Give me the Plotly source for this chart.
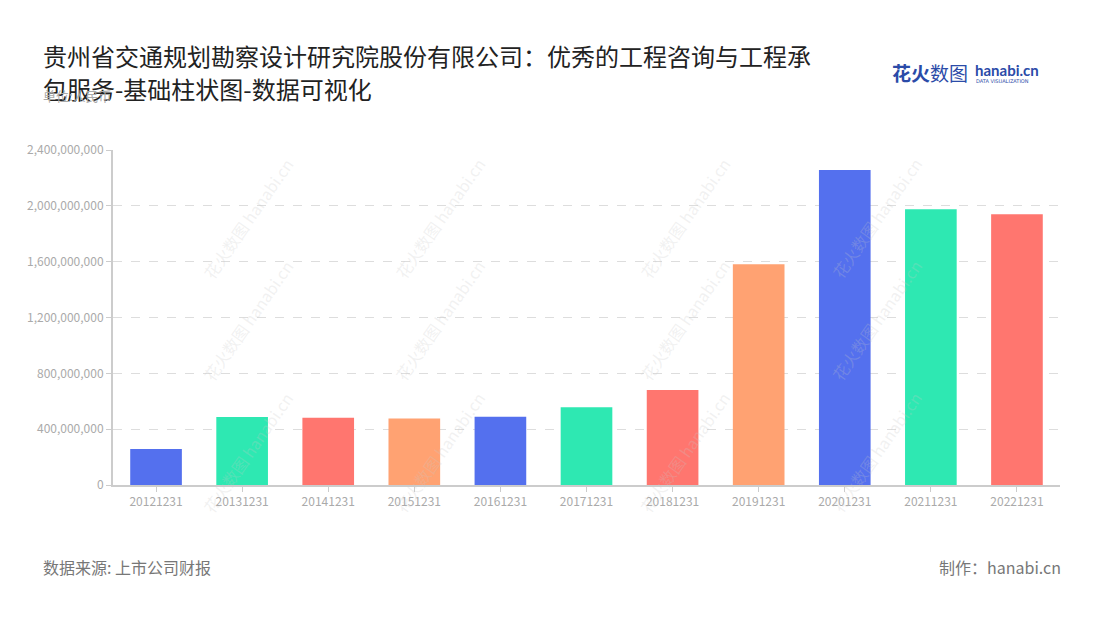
import plotly.graph_objects as go

categories = ["20121231", "20131231", "20141231", "20151231", "20161231", "20171231",
              "20181231", "20191231", "20201231", "20211231", "20221231"]
values = [258e6, 487e6, 482e6, 477e6, 489e6, 557e6, 681e6, 1581e6, 2257e6, 1975e6, 1939e6]
palette = ["#5470EE", "#2EE8B2", "#FF766F", "#FFA272"]
colors = [palette[i % 4] for i in range(len(categories))]

title_lines = ["贵州省交通规划勘察设计研究院股份有限公司：优秀的工程咨询与工程承",
               "包服务-基础柱状图-数据可视化"]
unit_text = "单位:人民币"
source_text = "数据来源: 上市公司财报"
maker_text = "制作：hanabi.cn"

FONT = "Noto Sans CJK SC"

fig = go.Figure(go.Bar(
    x=categories, y=values, marker=dict(color=colors, line=dict(width=0)),
    width=0.6, hoverinfo="x+y",
))

OFF = 8  # page body margin offset
W, H = 1100, 620
ml, mr, mt, mb = 113 - OFF, 40 + OFF, 150 - OFF, 135 + OFF

def px_x(x):
    x = x - OFF
    return (x - ml) / (W - ml - mr)

def px_y(y):
    y = y - OFF
    return 1 - (y - mt) / (H - mt - mb)

ann = []
ann.append(dict(text=title_lines[0], x=px_x(41), y=px_y(55), xref="paper", yref="paper",
                xanchor="left", yanchor="middle", align="left", showarrow=False,
                font=dict(family=FONT, size=24, color="#222222")))
ann.append(dict(text=title_lines[1], x=px_x(41), y=px_y(88), xref="paper", yref="paper",
                xanchor="left", yanchor="middle", align="left", showarrow=False,
                font=dict(family=FONT, size=24, color="#222222")))
ann.append(dict(text=unit_text, x=px_x(41), y=px_y(96), xref="paper", yref="paper",
                xanchor="left", yanchor="middle", showarrow=False,
                font=dict(family=FONT, size=13, color="#AAAAAA")))
ann.append(dict(text=source_text, x=px_x(41), y=px_y(567), xref="paper", yref="paper",
                xanchor="left", yanchor="middle", showarrow=False,
                font=dict(family=FONT, size=16, color="#777777")))
ann.append(dict(text=maker_text, x=px_x(1063), y=px_y(567), xref="paper", yref="paper",
                xanchor="right", yanchor="middle", showarrow=False,
                font=dict(family=FONT, size=16, color="#777777")))
# logo
ann.append(dict(text="<b>花火</b>数图", x=px_x(890), y=px_y(73), xref="paper", yref="paper",
                xanchor="left", yanchor="middle", showarrow=False,
                font=dict(family=FONT, size=19, color="#2B4BA8")))
ann.append(dict(text="<b>hanabi.cn</b>", x=px_x(973), y=px_y(70), xref="paper", yref="paper",
                xanchor="left", yanchor="middle", showarrow=False,
                font=dict(family="Lato", size=15, color="#2B4BA8")))
ann.append(dict(text="DATA VISUALIZATION", x=px_x(974), y=px_y(81), xref="paper", yref="paper",
                xanchor="left", yanchor="middle", showarrow=False,
                font=dict(family="DejaVu Sans", size=5, color="#2B4BA8")))

# faint watermarks
for wx in [155, 400, 645, 890]:
    for wy in [150, 320, 520]:
        ann.append(dict(text="花火数图 hanabi.cn", x=px_x(wx + 40), y=px_y(wy), xref="paper", yref="paper",
                        showarrow=False, textangle=-55,
                        font=dict(family=FONT, size=16, color="rgba(200,200,200,0.25)")))

fig.update_layout(
    width=W, height=H,
    margin=dict(l=ml, r=mr, t=mt, b=mb),
    paper_bgcolor="white", plot_bgcolor="white",
    showlegend=False,
    bargap=0.4,
    annotations=ann,
    font=dict(family=FONT),
    xaxis=dict(
        type="category", showline=True, linecolor="#CCCCCC", linewidth=2,
        ticks="outside", tickcolor="#CCCCCC", ticklen=5, tickwidth=1,
        tickfont=dict(family=FONT, size=12, color="#AAAAAA"),
        showgrid=False,
    ),
    yaxis=dict(
        range=[0, 2.4e9], dtick=4e8, tickformat=",",
        showline=True, linecolor="#CCCCCC", linewidth=2,
        ticks="outside", tickcolor="#CCCCCC", ticklen=5,
        tickfont=dict(family=FONT, size=12, color="#AAAAAA"),
        showgrid=True, gridcolor="#DDDDDD", griddash="dash", gridwidth=1,
        zeroline=False,
    ),
)

fig.write_html("out.html")
